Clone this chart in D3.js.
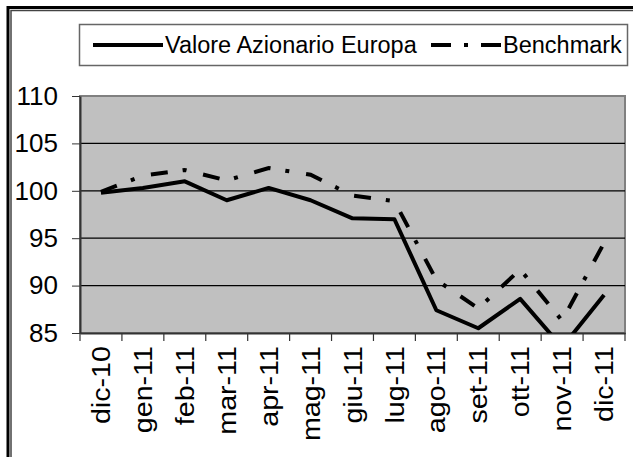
<!DOCTYPE html>
<html>
<script src='https://d3js.org/d3.v7.min.js'></script>
<style>
body {margin: 0; background: white;}
text {font-family: 'Liberation Sans', Arial, sans-serif; fill: black;}
</style>
<body onload='init()'>
<script>
// data
var months = ['dic-10','gen-11','feb-11','mar-11','apr-11','mag-11','giu-11','lug-11','ago-11','set-11','ott-11','nov-11','dic-11'];
var valore = [99.8, 100.3, 101.0, 99.0, 100.3, 99.0, 97.1, 97.0, 87.4, 85.5, 88.6, 83.5, 89.0];
var benchmark = [99.9, 101.6, 102.2, 101.1, 102.4, 101.7, 99.5, 98.9, 90.6, 87.6, 91.7, 86.3, 94.5];
var yTicks = [85, 90, 95, 100, 105, 110];
var seriesNames = ['Valore Azionario Europa', 'Benchmark'];

function init() {

var W = 633, H = 457;
var left = 80, right = 625, top = 96, bottom = 333;

var svg = d3.select('body')
.append('svg')
.attr('width', W)
.attr('height', H);

// outer frame (cropped, double line)
svg.append('path')
.attr('d', 'M8,' + H + 'V7.5H' + W)
.attr('fill', 'none')
.attr('stroke', 'black')
.attr('stroke-width', 3);
svg.append('path')
.attr('d', 'M11,' + H + 'V10.5H' + W)
.attr('fill', 'none')
.attr('stroke', '#444')
.attr('stroke-width', 1.5);

var x = d3.scaleBand().domain(months).range([left, right]).padding(0);
var y = d3.scaleLinear().domain([85, 110]).range([bottom, top]);

// plot area
svg.append('rect')
.attr('x', left)
.attr('y', top)
.attr('width', right - left)
.attr('height', bottom - top)
.attr('fill', '#c0c0c0')
.attr('stroke', '#808080')
.attr('stroke-width', 2);

// gridlines
svg.append('g')
.selectAll('line')
.data(yTicks.slice(1, -1))
.enter()
.append('line')
.attr('x1', left)
.attr('x2', right)
.attr('y1', function(d){return y(d);})
.attr('y2', function(d){return y(d);})
.attr('stroke', 'black')
.attr('stroke-width', 1.2);

// y axis
var yAxis = svg.append('g')
.attr('transform', 'translate(' + left + ',0)')
.call(d3.axisLeft(y).tickValues(yTicks).tickSize(8).tickSizeOuter(0).tickPadding(14));
yAxis.select('.domain').attr('stroke', '#333').attr('stroke-width', 2);
yAxis.selectAll('line').attr('stroke', '#333');
yAxis.selectAll('text').style('font-size', '26px').attr('font-family', null);

// x axis: labels at category centres, ticks at category edges
var xAxis = svg.append('g')
.attr('transform', 'translate(0,' + bottom + ')')
.call(d3.axisBottom(x).tickSize(0).tickSizeOuter(0));
xAxis.select('.domain').attr('stroke', '#333').attr('stroke-width', 2);
xAxis.selectAll('text')
.attr('transform', 'rotate(-90) scale(1.1,1)')
.attr('x', -12)
.attr('y', 0)
.attr('dy', '0.35em')
.attr('font-family', null)
.style('text-anchor', 'end')
.style('font-size', '26px');

var edges = months.map(function(d){return x(d);}).concat([x.range()[1]]);
svg.append('g')
.selectAll('line')
.data(edges)
.enter()
.append('line')
.attr('x1', function(d){return d;})
.attr('x2', function(d){return d;})
.attr('y1', bottom)
.attr('y2', bottom + 8)
.attr('stroke', '#333')
.attr('stroke-width', 1.2);

// clip lines to plot area
svg.append('clipPath')
.attr('id', 'plotClip')
.append('rect')
.attr('x', left)
.attr('y', top)
.attr('width', right - left)
.attr('height', bottom - top);

var line = d3.line()
.x(function(d, i){return x(months[i]) + x.bandwidth() / 2;})
.y(function(d){return y(d);});

svg.append('path')
.datum(benchmark)
.attr('clip-path', 'url(#plotClip)')
.attr('d', line)
.attr('fill', 'none')
.attr('stroke', 'black')
.attr('stroke-width', 4)
.attr('stroke-dasharray', '17,15,4,17');

svg.append('path')
.datum(valore)
.attr('clip-path', 'url(#plotClip)')
.attr('d', line)
.attr('fill', 'none')
.attr('stroke', 'black')
.attr('stroke-width', 4)
.attr('stroke-linejoin', 'round');

// legend
var legend = svg.append('g');
legend.append('rect')
.attr('x', 79.5)
.attr('y', 24.5)
.attr('width', 548)
.attr('height', 41)
.attr('fill', 'white')
.attr('stroke', '#666')
.attr('stroke-width', 1.5);

var ly = 45;
legend.append('line')
.attr('x1', 93).attr('x2', 163)
.attr('y1', ly).attr('y2', ly)
.attr('stroke', 'black')
.attr('stroke-width', 4);
legend.append('text')
.attr('x', 165)
.attr('y', ly)
.attr('dy', '0.35em')
.style('font-size', '23.5px')
.text(seriesNames[0]);

legend.append('line')
.attr('x1', 431).attr('x2', 501)
.attr('y1', ly).attr('y2', ly)
.attr('stroke', 'black')
.attr('stroke-width', 4)
.attr('stroke-dasharray', '20,13,4,13');
legend.append('text')
.attr('x', 503)
.attr('y', ly)
.attr('dy', '0.35em')
.style('font-size', '23.5px')
.text(seriesNames[1]);

}
</script>
</body>
</html>
